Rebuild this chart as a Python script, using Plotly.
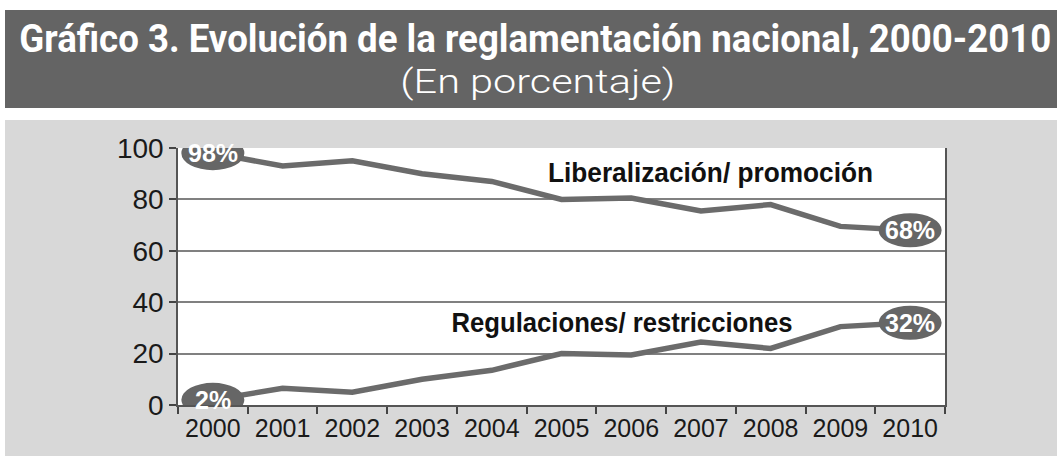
import json
import plotly.graph_objects as go

years = [2000, 2001, 2002, 2003, 2004, 2005, 2006, 2007, 2008, 2009, 2010]
liberalizacion = [98, 93, 95, 90, 87, 80, 80.5, 75.5, 78, 69.5, 68]
regulaciones = [2, 6.5, 5, 10, 13.5, 20, 19.5, 24.5, 22, 30.5, 32]
y_ticks = [0, 20, 40, 60, 80, 100]

title_text = "Gráfico 3. Evolución de la reglamentación nacional, 2000-2010"
subtitle_text = "(En porcentaje)"
lib_name = "Liberalización/ promoción"
reg_name = "Regulaciones/ restricciones"

W, H = 1057, 456
L, R, T, B = 178, 945, 148, 405  # plot area in pixels


def px(xp):
    return (xp - L) / (R - L)


def py(yp):
    return (B - yp) / (B - T)


LINE = "#6b6b6b"
ELL = "#666666"

fig = go.Figure()
for vals in (liberalizacion, regulaciones):
    fig.add_trace(go.Scatter(x=years, y=vals, mode="lines",
                             line=dict(color=LINE, width=5.5),
                             hoverinfo="skip", showlegend=False))

shapes = [
    dict(type="rect", xref="paper", yref="paper", x0=px(0), x1=px(W), y0=py(0), y1=py(120),
         fillcolor="white", line=dict(width=0), layer="below"),
    dict(type="rect", xref="paper", yref="paper", x0=px(5), x1=px(W), y0=py(10), y1=py(108),
         fillcolor="#646464", line=dict(width=0), layer="below"),
    dict(type="rect", xref="paper", yref="paper", x0=px(0), x1=px(5), y0=py(0), y1=py(H),
         fillcolor="white", line=dict(width=0), layer="below"),
]
annotations = []
for vals in (liberalizacion, regulaciones):
    for i in (0, len(years) - 1):
        shapes.append(dict(type="circle", xref="x", yref="y", xsizemode="pixel", ysizemode="pixel",
                           xanchor=years[i], yanchor=vals[i], x0=-31.5, x1=31.5, y0=-17, y1=17,
                           fillcolor=ELL, line=dict(width=0), layer="above"))
        annotations.append(dict(x=years[i], y=vals[i], xref="x", yref="y", showarrow=False,
                                xanchor="center", yanchor="middle",
                                text=f"<b>{vals[i]:g}%</b>",
                                font=dict(family="Liberation Sans, Arial", size=25, color="white")))

annotations += [
    dict(x=px(535.5), y=py(39), xref="paper", yref="paper", xanchor="center", yanchor="middle",
         showarrow=False, text=f"<b>{title_text}</b>",
         font=dict(family="Roboto, Liberation Sans, sans-serif", size=39, color="white")),
    dict(x=px(537.5), y=py(81), xref="paper", yref="paper", xanchor="center", yanchor="middle",
         showarrow=False, text=subtitle_text,
         font=dict(family="Roboto, Lato, sans-serif", size=34, color="white", weight=300)),
    dict(x=px(710.5), y=py(172), xref="paper", yref="paper", xanchor="center", yanchor="middle",
         showarrow=False, text=f"<b>{lib_name}</b>",
         font=dict(family="Liberation Sans, Arial", size=28, color="#111111")),
    dict(x=px(622), y=py(322), xref="paper", yref="paper", xanchor="center", yanchor="middle",
         showarrow=False, text=f"<b>{reg_name}</b>",
         font=dict(family="Liberation Sans, Arial", size=28, color="#111111")),
]

boundaries = [y - 0.5 for y in years] + [years[-1] + 0.5]

fig.update_layout(
    width=W, height=H,
    margin=dict(l=L, r=W - R, t=T, b=H - B, pad=0),
    paper_bgcolor="#d8d8d8", plot_bgcolor="white",
    shapes=shapes, annotations=annotations,
    xaxis=dict(range=[years[0] - 0.5, years[-1] + 0.5], tickmode="array", tickvals=years,
               ticktext=[str(y) for y in years], ticks="", showgrid=False, zeroline=False,
               showline=True, linecolor="#555555", linewidth=1.5, mirror=False,
               tickfont=dict(family="Liberation Sans, Arial", size=25, color="#1a1a1a"),
               minor=dict(tickmode="array", tickvals=boundaries, ticks="outside", ticklen=7,
                          tickwidth=1.5, tickcolor="#444444", showgrid=False)),
    yaxis=dict(range=[0, 100], tickmode="array", tickvals=y_ticks, ticks="outside", ticklen=7,
               tickwidth=1.5, tickcolor="#444444", showgrid=True, gridcolor="#808080", gridwidth=1.5,
               zeroline=False, showline=True, linecolor="#555555", linewidth=1.5, mirror=True,
               tickfont=dict(family="Liberation Sans, Arial", size=28, color="#1a1a1a")),
)

# Target text widths (pixels) so condensed lettering fits like the reference
fit = [[title_text, 1032], [subtitle_text, 275], [lib_name, 325], [reg_name, 341]]
post = """
document.body.style.margin = '0px';
document.body.style.overflow = 'hidden';
var gd = document.getElementById('{plot_id}');
var FIT = %s;
function fitTexts() {
  gd.querySelectorAll('text.annotation-text').forEach(function (t) {
    var s = t.textContent;
    FIT.forEach(function (f) {
      if (s === f[0]) {
        t.setAttribute('textLength', f[1]);
        t.setAttribute('lengthAdjust', 'spacingAndGlyphs');
      }
    });
  });
}
fitTexts();
if (gd.on) { gd.on('plotly_afterplot', fitTexts); }
setTimeout(fitTexts, 50);
""" % json.dumps(fit, ensure_ascii=False)

fig.write_html("out.html", post_script=post, config={"displayModeBar": False})
